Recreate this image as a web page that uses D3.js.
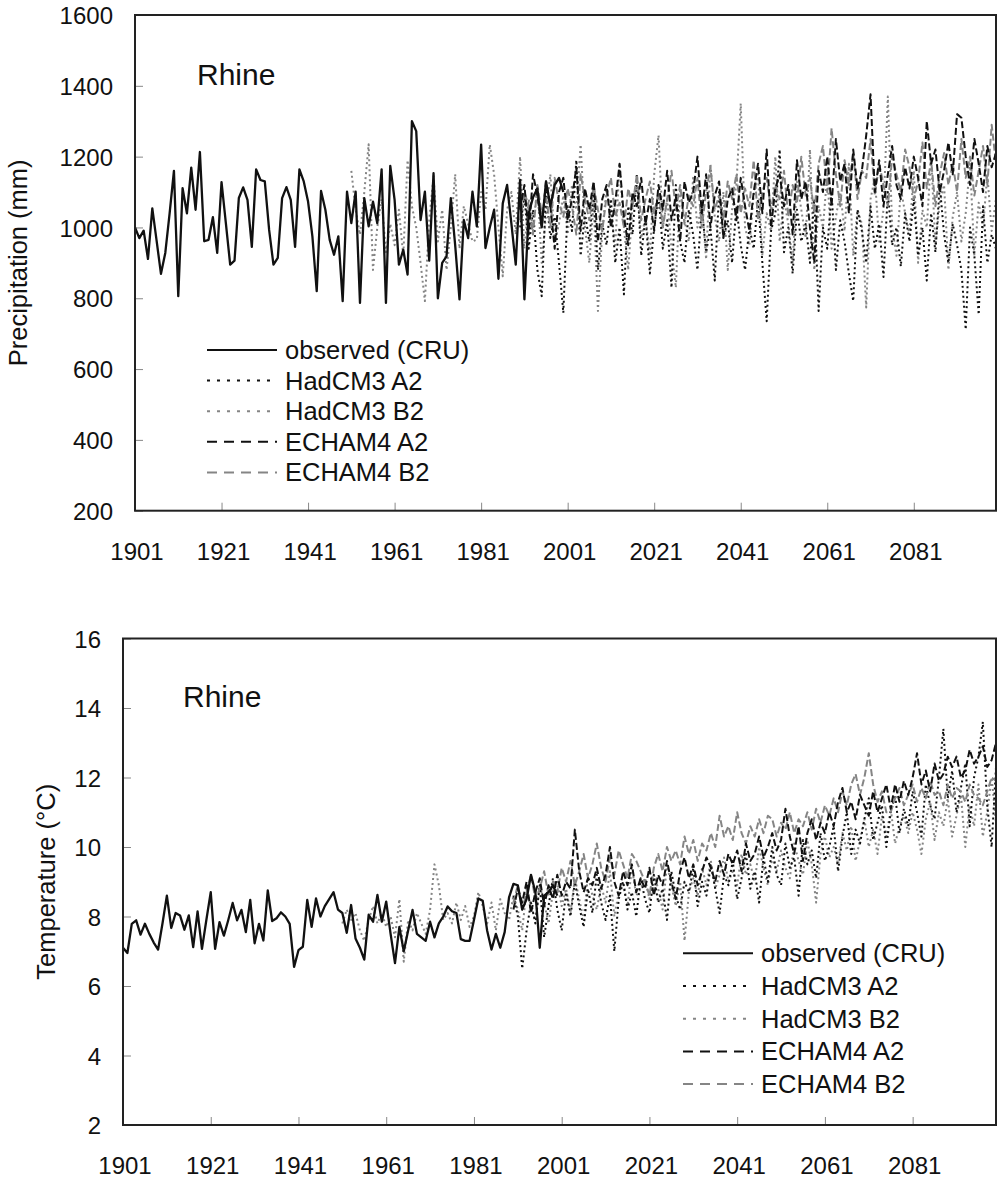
<!DOCTYPE html>
<html>
<head>
<meta charset="utf-8">
<script src="https://cdn.jsdelivr.net/npm/d3@7"></script>
<style>
  body { margin: 0; background: #fff; }
  svg text { font-family: "Liberation Sans", Arial, sans-serif; fill: #111; }
</style>
</head>
<body>
<div id="chart"></div>
<script>
// ---- data ----
const yearTicks = [1901, 1921, 1941, 1961, 1981, 2001, 2021, 2041, 2061, 2081];
const precipTicks = [200, 400, 600, 800, 1000, 1200, 1400, 1600];
const tempTicks = [2, 4, 6, 8, 10, 12, 14, 16];
const legendLabels = ["observed (CRU)", "HadCM3 A2", "HadCM3 B2", "ECHAM4 A2", "ECHAM4 B2"];

// first year of each series
const obsStart = 1901;
const hadB2Start = 1951;
const scenStart = 1990;

// precipitation (mm)
const precipObserved = [
  1000, 970, 991, 911, 1054, 962, 869, 928, 1040, 1160,
  806, 1111, 1040, 1169, 1050, 1213, 961, 965, 1029, 928,
  1128, 1012, 895, 906, 1083, 1113, 1078, 945, 1164, 1134,
  1130, 993, 895, 914, 1083, 1114, 1078, 945, 1164, 1130,
  1073, 975, 820, 1103, 1050, 965, 923, 975, 792, 1101,
  1012, 1101, 787, 1083, 1003, 1073, 1012, 1164, 787, 1174,
  1078, 895, 937, 867, 1300, 1272, 1021, 1101, 906, 1153,
  800, 900, 918, 1083, 950, 797, 1021, 970, 1101, 1003,
  1234, 942, 1000, 1050, 855, 1068, 1120, 1010, 895, 1134,
  797, 1040, 1085, 1110, 1000, 1130, 1060, 1120, 1140, 1100
];
const precipHadA2 = [
  1000, 1090, 940, 1050, 880, 806, 1100, 970, 1030, 900,
  759, 1060, 990, 1190, 920, 1040, 960, 1110, 880, 1010,
  950, 1080, 900, 1000, 811, 1060, 980, 1150, 920, 1030,
  870, 1000, 1090, 940, 1020, 830, 1120, 960, 900, 1050,
  980, 880, 1060, 930, 1000, 850, 1100, 970, 1020, 900,
  1060, 950, 880, 1000, 940, 1080, 900, 735, 990, 1040,
  1220, 930, 1000, 870, 1050, 960, 1010, 900, 1080, 764,
  1000, 940, 1100, 880, 1020, 960, 870, 792, 1050, 990,
  900, 1060, 940, 1010, 860, 1100, 950, 1000, 890, 1040,
  960, 1080, 920, 1000, 850, 1040, 930, 1120, 980, 900,
  1010, 950, 880, 712, 1000, 920, 754, 1060, 900, 980,
  940
];
const precipHadB2 = [
  1160, 1050, 980, 1100, 1235, 880, 1000, 1080, 930, 1010,
  950, 1050, 920, 1190, 1060, 1000, 900, 792, 1020, 1145,
  960, 1050, 880, 1000, 1150, 940, 1060, 1010, 960, 966,
  1100, 1050, 1234, 1150, 1000, 862, 1050, 1100, 980, 1200,
  940, 1080, 990, 1120, 900, 1040, 1150, 960, 1010, 1090,
  980, 1120, 1050, 1234, 1000, 900, 1070, 764, 990, 1110,
  1040, 950, 1180, 1000, 880, 1060, 1120, 970, 1030, 920,
  1150, 1260, 1000, 1080, 940, 830, 1110, 1020, 960, 1140,
  1000, 1070, 910, 1180, 1030, 960, 1100, 880, 1050, 1120,
  1350, 1000, 950, 1090, 1150, 920, 1040, 990, 1200, 960,
  1080, 1010, 900, 1130, 1050, 970, 1220, 880, 1060, 1000,
  1150, 940, 1030, 1100, 990, 1180, 920, 1050, 1010, 774,
  1080, 1140, 960, 1050, 1370, 1000, 920, 1110, 1040, 980,
  1160, 900, 1050, 1000, 1200, 950, 1070, 1120, 880, 1030,
  1100, 960, 1040, 1180, 920, 1070, 1000, 1150, 990, 1080
];
const precipEchA2 = [
  1050, 1120, 980, 1150, 1090, 1000, 1130, 1060, 940, 1100,
  1140, 1020, 1080, 1170, 990, 1110, 1050, 1130, 960, 1080,
  1120, 1000, 1070, 1180, 1030, 950, 1100, 1060, 1140, 1010,
  1080, 990, 1120, 1050, 1160, 1020, 1090, 960, 1130, 1070,
  1100, 1200, 1040, 1150, 1000, 1090, 1130, 970, 1080, 1110,
  1020, 1140, 1060, 990, 1100, 1180, 1040, 1220, 1000, 1110,
  1150, 1060, 1120, 980, 1190, 1080, 1130, 1000, 900, 1160,
  1100, 1200, 1060, 1250, 1130, 1180, 1040, 1220, 1110, 1160,
  1260, 1376, 1100, 1190, 1060, 1150, 1230, 1120, 1080, 1170,
  1110, 1200, 1140, 1060, 1300, 1180, 1220, 1100, 1160, 1240,
  1150, 1320, 1310, 1200, 1120, 1250, 1180, 1100, 1230, 1170,
  1210
];
const precipEchB2 = [
  1020, 1100, 1060, 980, 1120, 1040, 1090, 1000, 1140, 1070,
  1030, 1110, 1060, 980, 1150, 1080, 1020, 1120, 1050, 990,
  1090, 1140, 1030, 1070, 1000, 1110, 1060, 1150, 1020, 1080,
  1130, 1040, 1100, 1000, 1080, 1160, 1050, 1120, 1010, 1090,
  1060, 1140, 1000, 1100, 1170, 1050, 1090, 1020, 1130, 1080,
  1150, 1040, 1110, 1060, 1190, 1020, 1100, 1140, 1050, 1120,
  1080, 1160, 1030, 1120, 1070, 1200, 1090, 1140, 1040, 1180,
  1230, 1100, 1280, 1150, 1060, 1190, 1120, 1210, 1080, 1160,
  1140, 1250, 1090, 1180, 1120, 1060, 1200, 1150, 1100, 1220,
  1170, 1080, 1130, 1240, 1110, 1190, 1060, 1150, 1210, 1120,
  1180, 1100, 1250, 1140, 1200, 1090, 1160, 1230, 1120, 1290,
  1180
];

// temperature (deg C)
const tempObserved = [
  7.10, 6.95, 7.79, 7.89, 7.48, 7.79, 7.50, 7.25, 7.05, 7.80,
  8.60, 7.67, 8.10, 8.03, 7.62, 8.03, 7.12, 8.15, 7.07, 7.90,
  8.70, 7.07, 7.84, 7.45, 7.90, 8.39, 7.89, 8.19, 7.55, 8.48,
  7.23, 7.79, 7.31, 8.75, 7.87, 7.95, 8.12, 8.00, 7.79, 6.55,
  7.03, 7.13, 8.48, 7.70, 8.52, 8.00, 8.30, 8.50, 8.70, 8.20,
  8.10, 7.53, 8.33, 7.37, 7.10, 6.76, 8.05, 7.85, 8.62, 7.85,
  8.43, 7.50, 6.66, 7.70, 7.00, 7.60, 8.19, 7.50, 7.40, 7.30,
  7.85, 7.40, 7.80, 8.00, 8.29, 8.15, 8.10, 7.35, 7.30, 7.30,
  7.90, 8.52, 8.45, 7.60, 7.05, 7.50, 7.10, 7.55, 8.55, 8.94,
  8.90, 8.20, 8.50, 9.20, 8.70, 7.10, 8.60, 8.70, 8.90, 8.60
];
const tempHadA2 = [
  8.6, 8.0, 6.5, 7.6, 8.4, 7.8, 8.9, 7.4, 8.3, 9.1,
  8.2, 7.6, 8.7, 8.0, 9.0, 8.3, 7.7, 8.8, 8.1, 9.2,
  8.4, 7.9, 8.6, 7.0, 8.5, 9.0, 8.2, 8.7, 8.0, 9.1,
  8.5, 8.1, 9.2, 8.4, 8.8, 7.9, 9.3, 8.6, 8.2, 9.0,
  8.7, 9.4, 8.3, 9.0, 8.6, 9.5, 8.8, 8.1, 9.2, 8.9,
  9.6, 8.5, 9.1, 9.8, 8.8, 9.3, 8.4, 9.7, 9.0, 10.0,
  9.2, 8.9, 10.1, 9.4, 9.7, 8.6, 10.2, 9.5, 9.9, 9.1,
  10.4, 9.6, 10.0, 10.6, 9.3, 10.3, 11.0, 9.8, 10.5, 10.1,
  10.8, 11.4, 10.2, 10.7, 11.2, 10.0, 11.0, 11.5, 10.4, 11.1,
  10.6, 11.6, 11.0, 10.3, 11.8, 11.2, 10.8, 12.0, 13.4, 11.4,
  12.2, 11.0, 11.7, 12.4, 10.6, 12.0, 12.6, 13.6, 11.2, 10.0,
  12.3
];
const tempHadB2 = [
  7.8, 8.2, 7.9, 8.1, 7.6, 7.3, 7.9, 8.3, 7.8, 8.1,
  7.7, 8.0, 7.4, 8.5, 6.7, 7.9, 7.6, 8.1, 7.8, 7.5,
  8.2, 9.5, 8.9, 7.9, 8.1, 7.8, 8.4, 7.9, 8.3, 7.7,
  8.0, 8.7, 8.3, 7.8, 8.4, 7.6, 8.5, 8.1, 7.9, 8.6,
  8.2, 7.6, 8.8, 8.3, 7.9, 8.9, 8.4, 7.8, 8.7, 9.0,
  8.3, 8.8, 8.1, 9.1, 8.5, 7.9, 9.2, 8.6, 8.2, 8.9,
  8.4, 9.3, 8.0, 8.7, 9.0, 8.3, 9.4, 8.6, 8.8, 9.1,
  8.5, 9.2, 8.8, 8.2, 9.5, 8.9, 8.3, 9.0, 7.3, 8.7,
  9.1, 8.6, 9.4, 8.9, 9.6, 8.8, 9.2, 9.7, 9.0, 9.3,
  8.9, 9.8, 9.2, 9.5, 9.0, 10.0, 9.4, 8.9, 9.7, 9.3,
  9.9, 9.4, 9.1, 10.1, 9.6, 9.2, 10.2, 9.5, 8.4, 9.8,
  10.3, 9.7, 10.0, 9.5, 10.4, 9.9, 10.6, 9.6, 10.2, 10.8,
  10.0, 10.5, 9.8, 10.9, 10.3, 11.1, 10.1, 10.6, 10.9, 10.4,
  11.0, 10.5, 9.8, 10.8, 11.3, 10.2, 11.0, 10.6, 11.4, 10.3,
  10.9, 11.5, 10.0, 11.2, 10.6, 11.8, 10.3, 11.0, 12.0, 10.7
];
const tempEchA2 = [
  8.2, 8.8, 8.4, 9.0, 8.1, 8.7, 9.1, 8.3, 8.9, 8.5,
  9.2, 8.6, 9.0, 8.8, 10.5, 9.3, 8.7, 9.1, 8.9, 9.4,
  8.8, 9.2, 10.0, 9.0, 8.6, 9.3, 8.9, 9.5, 8.7, 9.1,
  8.8, 9.4, 8.6, 9.2, 8.9, 9.6, 9.0, 8.5, 9.3, 9.7,
  9.1, 9.5, 8.9, 9.3, 9.7, 9.4, 9.0, 9.6, 9.2, 9.8,
  9.5, 9.9, 9.3, 10.1, 9.6, 9.8, 10.3, 9.7, 10.0, 10.4,
  9.9, 10.2, 11.1, 10.3, 9.8, 10.6, 9.6, 10.4, 10.8, 10.2,
  10.7, 10.4, 11.0, 10.6, 11.3, 11.7, 11.0, 11.3, 10.8, 11.5,
  11.2, 10.9, 11.6, 11.0, 11.4, 11.8, 11.1, 11.8, 11.3, 11.9,
  11.5, 12.0, 12.7, 11.8, 12.2, 11.6, 12.4, 11.9, 12.1, 12.6,
  12.3, 12.6, 12.0, 12.2, 12.8, 12.4, 12.6, 12.9, 12.3, 12.5,
  13.0
];
const tempEchB2 = [
  8.4, 8.9, 8.2, 8.7, 9.2, 8.5, 8.8, 9.3, 8.6, 9.0,
  8.7, 9.4, 9.0, 9.6, 8.9, 9.3, 9.8, 9.1, 9.5, 10.1,
  9.4, 9.0, 9.7, 9.2, 9.9, 9.5, 9.1, 9.8, 9.6, 9.3,
  9.0, 8.6, 9.4, 9.8, 9.3, 10.0, 9.6, 9.9, 9.5, 10.3,
  9.8, 10.2, 9.6, 10.1, 9.9, 10.4, 10.0, 10.9, 10.3, 10.6,
  10.2, 11.0, 10.4, 10.1, 10.6, 10.3, 10.8, 10.4, 10.9, 10.8,
  10.3, 10.7, 10.5, 11.0, 10.4, 10.8, 10.6, 11.0, 10.5, 11.1,
  10.7, 11.2, 10.9, 11.4, 11.0, 11.6, 11.2, 11.8, 12.1, 11.5,
  12.0, 12.7, 11.8, 11.3, 11.6, 11.0, 11.0, 11.4, 11.7, 11.2,
  11.5, 11.8, 11.3, 11.7, 11.4, 11.9, 11.5, 11.6, 11.2, 11.8,
  11.4, 11.7, 11.6, 11.3, 11.8, 11.5, 11.4, 11.2, 11.6, 12.0,
  11.9
];

// ---- styles (kept apart from the data) ----
const styles = [
  { color: "#111", dash: null, legendDash: null, width: 2.3 },
  { color: "#111", dash: "2,3", legendDash: "3,7", width: 2 },
  { color: "#858585", dash: "2,3", legendDash: "3,7", width: 2 },
  { color: "#111", dash: "7,3", legendDash: "10,7", width: 2 },
  { color: "#858585", dash: "7,3", legendDash: "10,7", width: 2 }
];

const width = 997, height = 1179;
const svg = d3.select("#chart").append("svg")
  .attr("width", width)
  .attr("height", height);

function drawPanel(p) {
  const x = d3.scaleLinear().domain([1901, 2100]).range([p.left, p.right]);
  const y = d3.scaleLinear().domain(p.yDomain).range([p.bottom, p.top]);
  const g = svg.append("g");

  // x axis, ticks point inward
  const gx = g.append("g")
    .attr("transform", `translate(0,${p.bottom})`)
    .call(d3.axisBottom(x).tickValues(yearTicks).tickFormat(d3.format("d"))
      .tickSize(-8).tickPadding(32))
    .attr("font-size", 24)
    .attr("color", "#888");
  gx.select(".domain").remove();
  gx.selectAll("text").attr("dx", 1.5);

  // y axis
  const gy = g.append("g")
    .attr("transform", `translate(${p.left},0)`)
    .call(d3.axisLeft(y).tickValues(p.yTicks).tickFormat(d3.format("d"))
      .tickSize(-8).tickPadding(22))
    .attr("font-size", 24)
    .attr("color", "#888");
  gy.select(".domain").remove();
  gy.selectAll("text").attr("dy", "0.36em");

  // series lines, scenarios first and observed last
  const line = start => d3.line().x((d, i) => x(start + i)).y(d => y(d));
  const order = [2, 1, 4, 3, 0];
  order.forEach(k => {
    const s = p.series[k];
    const st = styles[k];
    g.append("path")
      .datum(s.values)
      .attr("fill", "none")
      .attr("stroke", st.color)
      .attr("stroke-width", st.width)
      .attr("stroke-dasharray", st.dash)
      .attr("stroke-linejoin", "round")
      .attr("d", line(s.start));
  });

  // frame
  g.append("rect")
    .attr("x", p.left).attr("y", p.top)
    .attr("width", p.right - p.left).attr("height", p.bottom - p.top)
    .attr("fill", "none").attr("stroke", "#222").attr("stroke-width", 2);

  // region label
  g.append("text")
    .attr("x", p.rhineX).attr("y", p.rhineY)
    .attr("font-size", 30)
    .text("Rhine");

  // y title
  g.append("text")
    .attr("transform", `translate(${p.titleX},${(p.top + p.bottom) / 2}) rotate(-90)`)
    .attr("text-anchor", "middle")
    .attr("font-size", 25.5)
    .text(p.title);

  // legend
  const lg = g.append("g");
  legendLabels.forEach((label, i) => {
    const ly = p.legendY + i * p.legendStep;
    const st = styles[i];
    lg.append("line")
      .attr("x1", p.legendX1).attr("x2", p.legendX2)
      .attr("y1", ly).attr("y2", ly)
      .attr("stroke", st.color)
      .attr("stroke-width", 2)
      .attr("stroke-dasharray", st.legendDash);
    lg.append("text")
      .attr("x", p.legendX2 + 8).attr("y", ly + 9)
      .attr("font-size", 25.5)
      .text(label);
  });
}

drawPanel({
  left: 135, right: 996, top: 15, bottom: 510.7,
  yDomain: [200, 1600], yTicks: precipTicks,
  title: "Precipitation (mm)", titleX: 26.5,
  rhineX: 197, rhineY: 85,
  legendX1: 207, legendX2: 277, legendY: 350, legendStep: 30.6,
  series: [
    { values: precipObserved, start: obsStart },
    { values: precipHadA2, start: scenStart },
    { values: precipHadB2, start: hadB2Start },
    { values: precipEchA2, start: scenStart },
    { values: precipEchB2, start: scenStart }
  ]
});

drawPanel({
  left: 123, right: 996, top: 638.5, bottom: 1125,
  yDomain: [2, 16], yTicks: tempTicks,
  title: "Temperature (°C)", titleX: 55,
  rhineX: 183, rhineY: 706.7,
  legendX1: 683, legendX2: 753, legendY: 953.3, legendStep: 32.7,
  series: [
    { values: tempObserved, start: obsStart },
    { values: tempHadA2, start: scenStart },
    { values: tempHadB2, start: hadB2Start },
    { values: tempEchA2, start: scenStart },
    { values: tempEchB2, start: scenStart }
  ]
});
</script>
</body>
</html>
